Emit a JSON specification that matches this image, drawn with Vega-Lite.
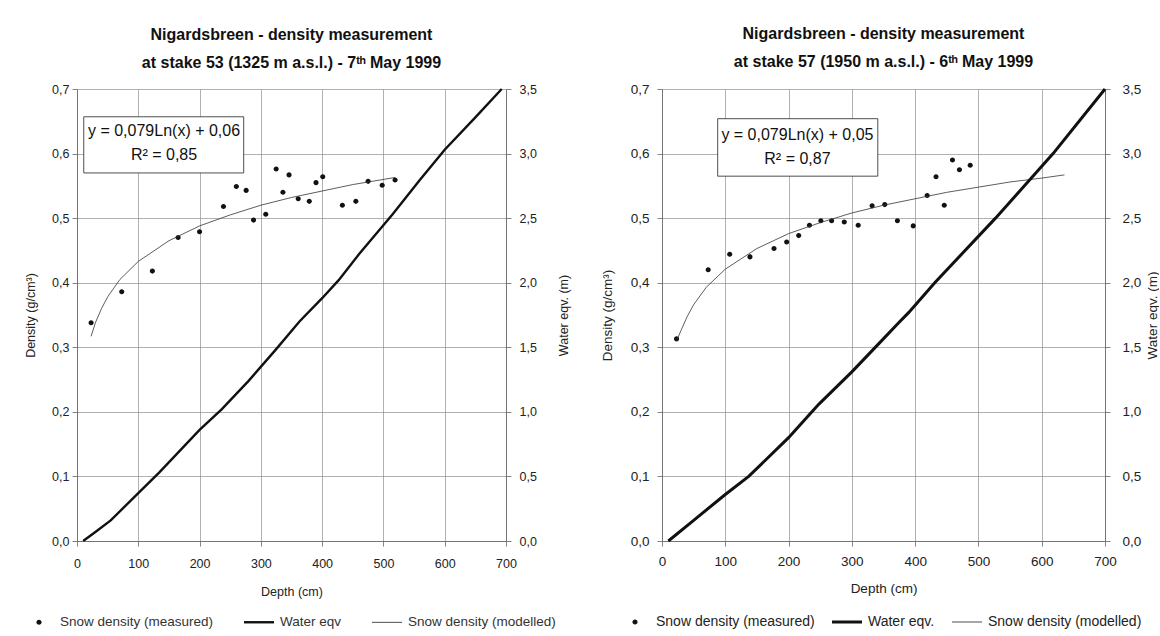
{
  "$schema": "https://vega.github.io/schema/vega-lite/v6.json",
  "background": "white",
  "padding": {"left": 24, "top": 26, "right": 0, "bottom": 0},
  "config": {
    "font": "Liberation Sans",
    "view": {"stroke": null},
    "axis": {"labelFont": "Liberation Sans", "labelFontSize": 12.5, "labelColor": "#222", "titleFont": "Liberation Sans", "titleFontSize": 12.5, "titleFontWeight": "normal", "titleColor": "#222", "domainColor": "#666", "tickColor": "#666", "tickSize": 5, "gridColor": "#8f8f8f", "gridWidth": 0.7, "domainWidth": 0.8, "tickWidth": 0.8, "labelFlush": false},
    "title": {"font": "Liberation Sans", "fontSize": 16, "fontWeight": "bold", "color": "#111", "lineHeight": 28, "offset": 12, "anchor": "middle"},
    "legend": {"labelFont": "Liberation Sans", "labelFontSize": 13, "labelColor": "#222", "symbolSize": 900, "symbolFillColor": "#111", "symbolStrokeColor": "#111", "symbolStrokeWidth": 0, "symbolOpacity": 1, "labelOffset": 6}
  },
  "resolve": {"scale": {"shape": "independent"}, "legend": {"shape": "independent"}},
  "spacing": 30,
  "hconcat": [
    {
      "width": 429,
      "height": 452,
      "title": {"text": ["Nigardsbreen - density measurement", "at stake 53 (1325 m a.s.l.) - 7ᵗʰ May 1999"]},
      "resolve": {"scale": {"y": "independent"}},
      "layer": [
        {
          "layer": [
            {
              "data": {"values": [
                {"depth": 23, "density": 0.338, "series": "Snow density (measured)"},
                {"depth": 73, "density": 0.386, "series": "Snow density (measured)"},
                {"depth": 123, "density": 0.418, "series": "Snow density (measured)"},
                {"depth": 165, "density": 0.470, "series": "Snow density (measured)"},
                {"depth": 200, "density": 0.479, "series": "Snow density (measured)"},
                {"depth": 239, "density": 0.518, "series": "Snow density (measured)"},
                {"depth": 260, "density": 0.549, "series": "Snow density (measured)"},
                {"depth": 276, "density": 0.543, "series": "Snow density (measured)"},
                {"depth": 288, "density": 0.497, "series": "Snow density (measured)"},
                {"depth": 308, "density": 0.506, "series": "Snow density (measured)"},
                {"depth": 325, "density": 0.576, "series": "Snow density (measured)"},
                {"depth": 336, "density": 0.540, "series": "Snow density (measured)"},
                {"depth": 346, "density": 0.567, "series": "Snow density (measured)"},
                {"depth": 361, "density": 0.530, "series": "Snow density (measured)"},
                {"depth": 379, "density": 0.526, "series": "Snow density (measured)"},
                {"depth": 390, "density": 0.555, "series": "Snow density (measured)"},
                {"depth": 401, "density": 0.564, "series": "Snow density (measured)"},
                {"depth": 433, "density": 0.520, "series": "Snow density (measured)"},
                {"depth": 455, "density": 0.526, "series": "Snow density (measured)"},
                {"depth": 475, "density": 0.557, "series": "Snow density (measured)"},
                {"depth": 498, "density": 0.551, "series": "Snow density (measured)"},
                {"depth": 519, "density": 0.559, "series": "Snow density (measured)"}
              ]},
              "mark": {"type": "point", "filled": true, "size": 900, "color": "#111", "opacity": 1},
              "encoding": {
                "x": {"field": "depth", "type": "quantitative", "scale": {"domain": [0, 700], "nice": false}, "axis": {"title": "Depth (cm)", "values": [0, 100, 200, 300, 400, 500, 600, 700], "format": "d", "grid": true, "labelPadding": 11, "titlePadding": 16}},
                "y": {"field": "density", "type": "quantitative", "scale": {"domain": [0, 0.7], "nice": false}, "axis": {"title": "Density (g/cm³)", "values": [0, 0.1, 0.2, 0.3, 0.4, 0.5, 0.6, 0.7], "labelExpr": "replace(format(datum.value, '.1f'), '.', ',')", "grid": true, "labelPadding": 3, "titlePadding": 15, "minExtent": 25, "maxExtent": 25}},
                "shape": {"field": "series", "type": "nominal",
                  "scale": {"domain": ["Snow density (measured)", "Water eqv", "Snow density (modelled)"], "range": ["M-0.17,0A0.17,0.17 0 1,0 0.17,0A0.17,0.17 0 1,0 -0.17,0Z", "M-1,-0.08H1V0.08H-1Z", "M-1,-0.025H1V0.025H-1Z"]},
                  "legend": {"title": null, "orient": "none", "direction": "horizontal", "legendX": -53, "legendY": 518, "columnPadding": 30, "labelFontSize": 13.5, "labelColor": "#333"}}
              }
            },
            {
              "data": {"values": [
                {"depth": 23, "density": 0.317},
                {"depth": 30, "density": 0.338},
                {"depth": 40, "density": 0.360},
                {"depth": 50, "density": 0.378},
                {"depth": 70, "density": 0.405},
                {"depth": 100, "density": 0.433},
                {"depth": 150, "density": 0.465},
                {"depth": 200, "density": 0.488},
                {"depth": 250, "density": 0.505},
                {"depth": 300, "density": 0.520},
                {"depth": 350, "density": 0.532},
                {"depth": 400, "density": 0.542},
                {"depth": 450, "density": 0.552},
                {"depth": 519, "density": 0.563}
              ]},
              "mark": {"type": "line", "color": "#333", "strokeWidth": 0.8},
              "encoding": {
                "x": {"field": "depth", "type": "quantitative", "scale": {"domain": [0, 700], "nice": false}, "axis": {"title": "Depth (cm)", "values": [0, 100, 200, 300, 400, 500, 600, 700], "format": "d", "grid": true, "labelPadding": 11, "titlePadding": 16}},
                "y": {"field": "density", "type": "quantitative", "scale": {"domain": [0, 0.7], "nice": false}, "axis": {"title": "Density (g/cm³)", "values": [0, 0.1, 0.2, 0.3, 0.4, 0.5, 0.6, 0.7], "labelExpr": "replace(format(datum.value, '.1f'), '.', ',')", "grid": true, "labelPadding": 3, "titlePadding": 15, "minExtent": 25, "maxExtent": 25}}
              }
            },
            {
              "data": {"values": [{"label": "y = 0,079Ln(x) + 0,06\nR² = 0,85"}]},
              "mark": {"type": "rect", "fill": "white", "stroke": "#222", "strokeWidth": 0.8},
              "encoding": {
                "x": {"datum": 11, "type": "quantitative", "scale": {"domain": [0, 700], "nice": false}, "axis": {"title": "Depth (cm)", "values": [0, 100, 200, 300, 400, 500, 600, 700], "format": "d", "grid": true, "labelPadding": 11, "titlePadding": 16}},
                "x2": {"datum": 272},
                "y": {"datum": 0.657, "type": "quantitative", "scale": {"domain": [0, 0.7], "nice": false}, "axis": {"title": "Density (g/cm³)", "values": [0, 0.1, 0.2, 0.3, 0.4, 0.5, 0.6, 0.7], "labelExpr": "replace(format(datum.value, '.1f'), '.', ',')", "grid": true, "labelPadding": 3, "titlePadding": 15, "minExtent": 25, "maxExtent": 25}},
                "y2": {"datum": 0.570}
              }
            },
            {
              "data": {"values": [{"label": "y = 0,079Ln(x) + 0,06\nR² = 0,85"}]},
              "mark": {"type": "text", "fontSize": 16, "lineBreak": "\n", "lineHeight": 24, "align": "center", "baseline": "middle", "color": "#111"},
              "encoding": {
                "x": {"datum": 142, "type": "quantitative", "scale": {"domain": [0, 700], "nice": false}, "axis": {"title": "Depth (cm)", "values": [0, 100, 200, 300, 400, 500, 600, 700], "format": "d", "grid": true, "labelPadding": 11, "titlePadding": 16}},
                "y": {"datum": 0.635, "type": "quantitative", "scale": {"domain": [0, 0.7], "nice": false}, "axis": {"title": "Density (g/cm³)", "values": [0, 0.1, 0.2, 0.3, 0.4, 0.5, 0.6, 0.7], "labelExpr": "replace(format(datum.value, '.1f'), '.', ',')", "grid": true, "labelPadding": 3, "titlePadding": 15, "minExtent": 25, "maxExtent": 25}},
                "text": {"field": "label"}
              }
            }
          ]
        },
        {
          "data": {"values": [
            {"depth": 10, "we": 0.0},
            {"depth": 30, "we": 0.07},
            {"depth": 55, "we": 0.16},
            {"depth": 100, "we": 0.37},
            {"depth": 134, "we": 0.53},
            {"depth": 200, "we": 0.86},
            {"depth": 236, "we": 1.02},
            {"depth": 280, "we": 1.24},
            {"depth": 324, "we": 1.48},
            {"depth": 363, "we": 1.70},
            {"depth": 400, "we": 1.88},
            {"depth": 427, "we": 2.02},
            {"depth": 460, "we": 2.22},
            {"depth": 515, "we": 2.53},
            {"depth": 560, "we": 2.80},
            {"depth": 600, "we": 3.03},
            {"depth": 650, "we": 3.28},
            {"depth": 693, "we": 3.5}
          ]},
          "mark": {"type": "line", "color": "#111", "strokeWidth": 2.4},
          "encoding": {
            "x": {"field": "depth", "type": "quantitative", "scale": {"domain": [0, 700], "nice": false}, "axis": {"title": "Depth (cm)", "values": [0, 100, 200, 300, 400, 500, 600, 700], "format": "d", "grid": true, "labelPadding": 11, "titlePadding": 16}},
            "y": {"field": "we", "type": "quantitative", "scale": {"domain": [0, 3.5], "nice": false}, "axis": {"orient": "right", "title": "Water eqv. (m)", "titleAngle": 270, "values": [0, 0.5, 1, 1.5, 2, 2.5, 3, 3.5], "labelExpr": "replace(format(datum.value, '.1f'), '.', ',')", "grid": false, "labelPadding": 8, "titlePadding": 34, "minExtent": 30, "maxExtent": 30}}
          }
        }
      ]
    },
    {
      "width": 443,
      "height": 452,
      "title": {"text": ["Nigardsbreen - density measurement", "at stake 57 (1950 m a.s.l.) - 6ᵗʰ May 1999"]},
      "resolve": {"scale": {"y": "independent"}},
      "layer": [
        {
          "layer": [
            {
              "data": {"values": [
                {"depth": 23, "density": 0.313, "series": "Snow density (measured)"},
                {"depth": 73, "density": 0.420, "series": "Snow density (measured)"},
                {"depth": 107, "density": 0.444, "series": "Snow density (measured)"},
                {"depth": 139, "density": 0.440, "series": "Snow density (measured)"},
                {"depth": 177, "density": 0.453, "series": "Snow density (measured)"},
                {"depth": 197, "density": 0.463, "series": "Snow density (measured)"},
                {"depth": 216, "density": 0.473, "series": "Snow density (measured)"},
                {"depth": 233, "density": 0.489, "series": "Snow density (measured)"},
                {"depth": 251, "density": 0.496, "series": "Snow density (measured)"},
                {"depth": 268, "density": 0.496, "series": "Snow density (measured)"},
                {"depth": 288, "density": 0.494, "series": "Snow density (measured)"},
                {"depth": 310, "density": 0.489, "series": "Snow density (measured)"},
                {"depth": 332, "density": 0.519, "series": "Snow density (measured)"},
                {"depth": 352, "density": 0.521, "series": "Snow density (measured)"},
                {"depth": 372, "density": 0.496, "series": "Snow density (measured)"},
                {"depth": 397, "density": 0.488, "series": "Snow density (measured)"},
                {"depth": 419, "density": 0.535, "series": "Snow density (measured)"},
                {"depth": 433, "density": 0.564, "series": "Snow density (measured)"},
                {"depth": 446, "density": 0.520, "series": "Snow density (measured)"},
                {"depth": 459, "density": 0.590, "series": "Snow density (measured)"},
                {"depth": 470, "density": 0.575, "series": "Snow density (measured)"},
                {"depth": 487, "density": 0.582, "series": "Snow density (measured)"}
              ]},
              "mark": {"type": "point", "filled": true, "size": 900, "color": "#111", "opacity": 1},
              "encoding": {
                "x": {"field": "depth", "type": "quantitative", "scale": {"domain": [0, 700], "nice": false}, "axis": {"title": "Depth (cm)", "values": [0, 100, 200, 300, 400, 500, 600, 700], "format": "d", "grid": true, "labelPadding": 8, "titlePadding": 14, "labelFontSize": 13.5, "titleFontSize": 13.5}},
                "y": {"field": "density", "type": "quantitative", "scale": {"domain": [0, 0.7], "nice": false}, "axis": {"title": "Density (g/cm³)", "values": [0, 0.1, 0.2, 0.3, 0.4, 0.5, 0.6, 0.7], "labelExpr": "replace(format(datum.value, '.1f'), '.', ',')", "grid": true, "labelPadding": 8, "titlePadding": 16, "minExtent": 32, "maxExtent": 32, "labelFontSize": 13.5, "titleFontSize": 13.5}},
                "shape": {"field": "series", "type": "nominal",
                  "scale": {"domain": ["Snow density (measured)", "Water eqv.", "Snow density (modelled)"], "range": ["M-0.17,0A0.17,0.17 0 1,0 0.17,0A0.17,0.17 0 1,0 -0.17,0Z", "M-1,-0.1H1V0.1H-1Z", "M-1,-0.025H1V0.025H-1Z"]},
                  "legend": {"title": null, "orient": "none", "direction": "horizontal", "legendX": -42, "legendY": 518, "columnPadding": 17, "labelFontSize": 14}}
              }
            },
            {
              "data": {"values": [
                {"depth": 23, "density": 0.310},
                {"depth": 30, "density": 0.326},
                {"depth": 40, "density": 0.348},
                {"depth": 50, "density": 0.366},
                {"depth": 70, "density": 0.393},
                {"depth": 100, "density": 0.421},
                {"depth": 150, "density": 0.453},
                {"depth": 200, "density": 0.476},
                {"depth": 250, "density": 0.493},
                {"depth": 300, "density": 0.508},
                {"depth": 350, "density": 0.520},
                {"depth": 400, "density": 0.530},
                {"depth": 450, "density": 0.540},
                {"depth": 500, "density": 0.548},
                {"depth": 550, "density": 0.556},
                {"depth": 600, "density": 0.562},
                {"depth": 636, "density": 0.567}
              ]},
              "mark": {"type": "line", "color": "#333", "strokeWidth": 0.8},
              "encoding": {
                "x": {"field": "depth", "type": "quantitative", "scale": {"domain": [0, 700], "nice": false}, "axis": {"title": "Depth (cm)", "values": [0, 100, 200, 300, 400, 500, 600, 700], "format": "d", "grid": true, "labelPadding": 8, "titlePadding": 14, "labelFontSize": 13.5, "titleFontSize": 13.5}},
                "y": {"field": "density", "type": "quantitative", "scale": {"domain": [0, 0.7], "nice": false}, "axis": {"title": "Density (g/cm³)", "values": [0, 0.1, 0.2, 0.3, 0.4, 0.5, 0.6, 0.7], "labelExpr": "replace(format(datum.value, '.1f'), '.', ',')", "grid": true, "labelPadding": 8, "titlePadding": 16, "minExtent": 32, "maxExtent": 32, "labelFontSize": 13.5, "titleFontSize": 13.5}}
              }
            },
            {
              "data": {"values": [{"label": "y = 0,079Ln(x) + 0,05\nR² = 0,87"}]},
              "mark": {"type": "rect", "fill": "white", "stroke": "#222", "strokeWidth": 0.8},
              "encoding": {
                "x": {"datum": 88, "type": "quantitative", "scale": {"domain": [0, 700], "nice": false}, "axis": {"title": "Depth (cm)", "values": [0, 100, 200, 300, 400, 500, 600, 700], "format": "d", "grid": true, "labelPadding": 8, "titlePadding": 14, "labelFontSize": 13.5, "titleFontSize": 13.5}},
                "x2": {"datum": 341},
                "y": {"datum": 0.654, "type": "quantitative", "scale": {"domain": [0, 0.7], "nice": false}, "axis": {"title": "Density (g/cm³)", "values": [0, 0.1, 0.2, 0.3, 0.4, 0.5, 0.6, 0.7], "labelExpr": "replace(format(datum.value, '.1f'), '.', ',')", "grid": true, "labelPadding": 8, "titlePadding": 16, "minExtent": 32, "maxExtent": 32, "labelFontSize": 13.5, "titleFontSize": 13.5}},
                "y2": {"datum": 0.565}
              }
            },
            {
              "data": {"values": [{"label": "y = 0,079Ln(x) + 0,05\nR² = 0,87"}]},
              "mark": {"type": "text", "fontSize": 16, "lineBreak": "\n", "lineHeight": 24, "align": "center", "baseline": "middle", "color": "#111"},
              "encoding": {
                "x": {"datum": 214, "type": "quantitative", "scale": {"domain": [0, 700], "nice": false}, "axis": {"title": "Depth (cm)", "values": [0, 100, 200, 300, 400, 500, 600, 700], "format": "d", "grid": true, "labelPadding": 8, "titlePadding": 14, "labelFontSize": 13.5, "titleFontSize": 13.5}},
                "y": {"datum": 0.628, "type": "quantitative", "scale": {"domain": [0, 0.7], "nice": false}, "axis": {"title": "Density (g/cm³)", "values": [0, 0.1, 0.2, 0.3, 0.4, 0.5, 0.6, 0.7], "labelExpr": "replace(format(datum.value, '.1f'), '.', ',')", "grid": true, "labelPadding": 8, "titlePadding": 16, "minExtent": 32, "maxExtent": 32, "labelFontSize": 13.5, "titleFontSize": 13.5}},
                "text": {"field": "label"}
              }
            }
          ]
        },
        {
          "data": {"values": [
            {"depth": 10, "we": 0.0},
            {"depth": 50, "we": 0.16},
            {"depth": 100, "we": 0.36},
            {"depth": 137, "we": 0.5},
            {"depth": 200, "we": 0.8},
            {"depth": 233, "we": 0.98},
            {"depth": 248, "we": 1.06},
            {"depth": 300, "we": 1.31},
            {"depth": 343, "we": 1.53},
            {"depth": 374, "we": 1.69},
            {"depth": 390, "we": 1.77},
            {"depth": 431, "we": 2.0},
            {"depth": 527, "we": 2.5},
            {"depth": 618, "we": 3.0},
            {"depth": 700, "we": 3.5}
          ]},
          "mark": {"type": "line", "color": "#111", "strokeWidth": 3},
          "encoding": {
            "x": {"field": "depth", "type": "quantitative", "scale": {"domain": [0, 700], "nice": false}, "axis": {"title": "Depth (cm)", "values": [0, 100, 200, 300, 400, 500, 600, 700], "format": "d", "grid": true, "labelPadding": 8, "titlePadding": 14, "labelFontSize": 13.5, "titleFontSize": 13.5}},
            "y": {"field": "we", "type": "quantitative", "scale": {"domain": [0, 3.5], "nice": false}, "axis": {"orient": "right", "title": "Water eqv. (m)", "titleAngle": 270, "values": [0, 0.5, 1, 1.5, 2, 2.5, 3, 3.5], "labelExpr": "replace(format(datum.value, '.1f'), '.', ',')", "grid": false, "labelPadding": 12, "titlePadding": 18, "minExtent": 36, "maxExtent": 36, "labelFontSize": 13.5, "titleFontSize": 13.5}}
          }
        }
      ]
    }
  ]
}
